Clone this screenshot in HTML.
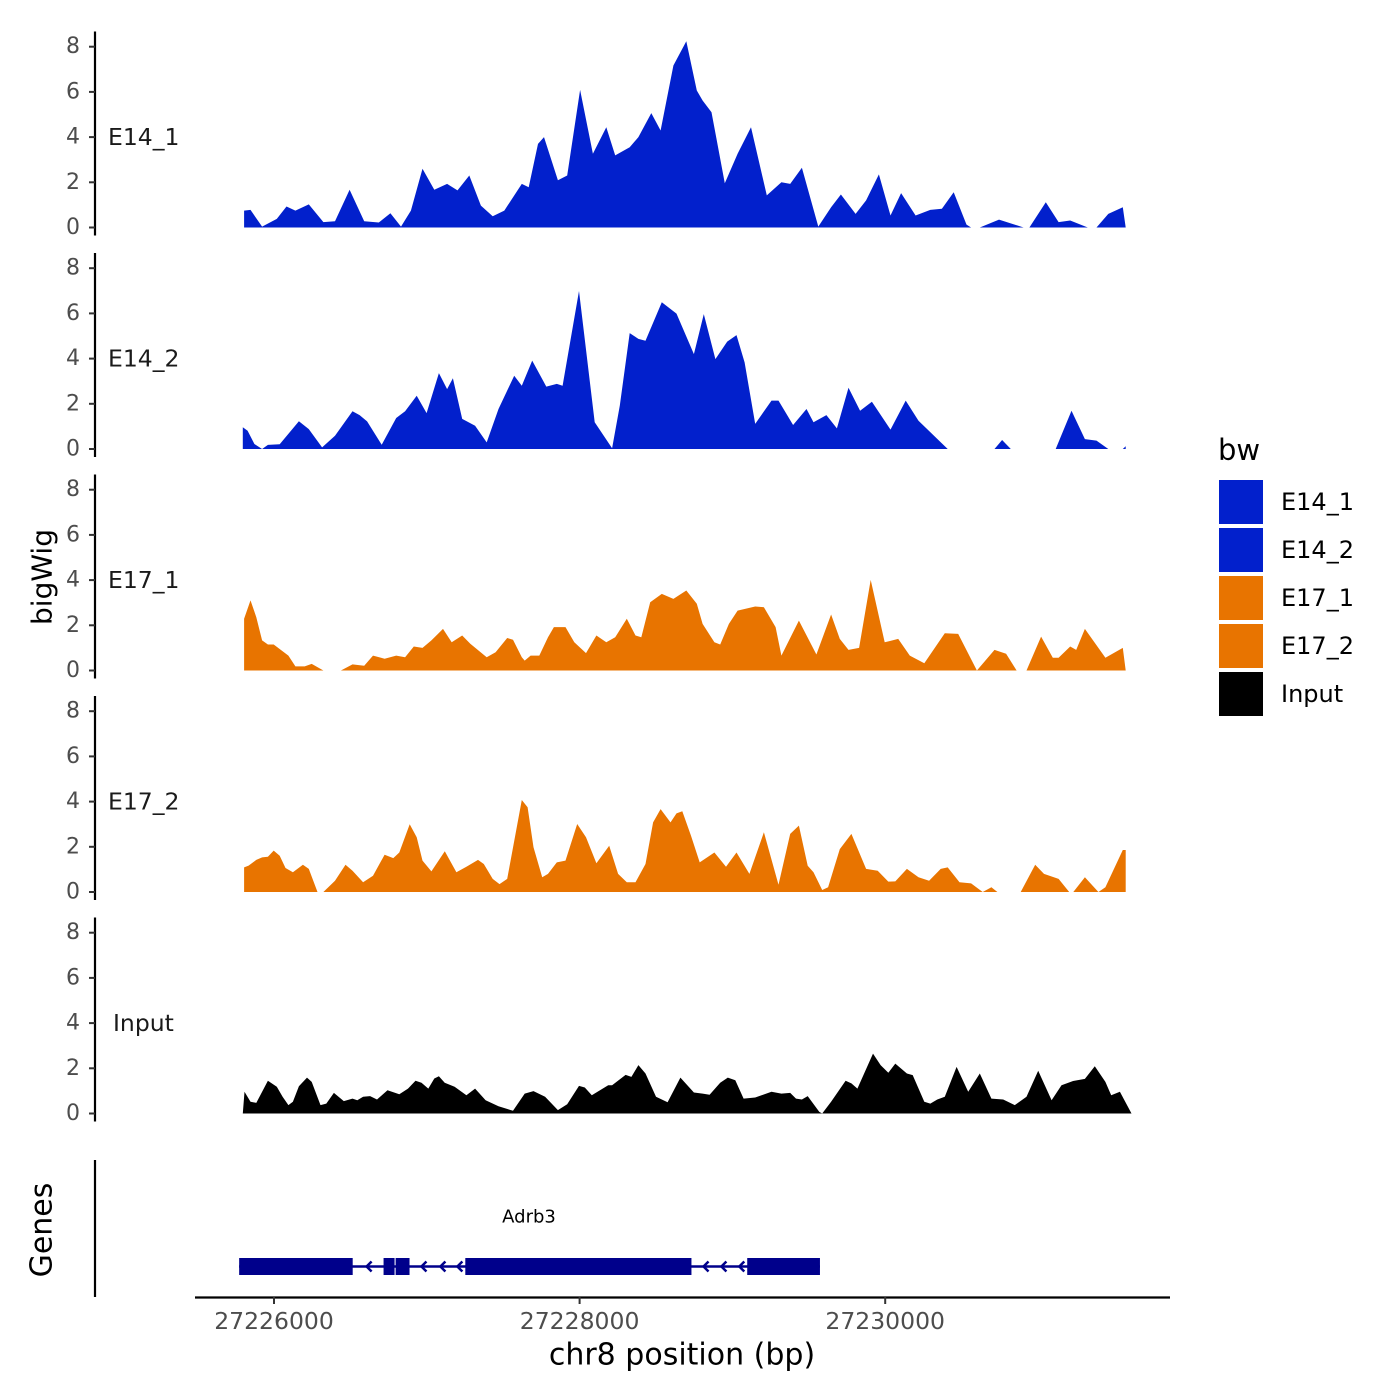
<!DOCTYPE html>
<html><head><meta charset="utf-8"><style>
html,body{margin:0;padding:0;background:#fff}
svg{display:block;font-family:"DejaVu Sans","Liberation Sans",sans-serif}
</style></head><body>
<svg id="chart" width="1400" height="1400" viewBox="0 0 1400 1400" xmlns="http://www.w3.org/2000/svg">
<rect width="1400" height="1400" fill="#fff"/>
<g id="tracks"></g>
<g id="genes"></g>
<g id="xaxis"></g>
<text x="42" y="577" transform="rotate(-90 42 577)" text-anchor="middle" dominant-baseline="central" font-size="28" fill="#000">bigWig</text>
<text x="42" y="1230" transform="rotate(-90 42 1230)" text-anchor="middle" dominant-baseline="central" font-size="30" fill="#000">Genes</text>
<text x="682" y="1355" text-anchor="middle" dominant-baseline="central" font-size="30" fill="#000">chr8 position (bp)</text>
<g id="legend"></g>
</svg>
<script>
const chromStart = 27225804;
const trackNames = ["E14_1","E14_2","E17_1","E17_2","Input"];
const trackColors = ["#0220CC","#0220CC","#E87400","#E87400","#000000"];
const yTicks = [0,2,4,6,8];
const xTicks = [27226000,27228000,27230000];
const xTickLabels = ["27226000","27228000","27230000"];

const e14_1_pos = [0,42,118,214,278,336,424,519,595,691,786,882,958,1027,1092,1168,1245,1329,1397,1474,1550,1627,1703,1818,1863,1924,1963,2054,2115,2199,2283,2371,2429,2524,2581,2665,2726,2810,2894,2963,3001,3059,3146,3230,3318,3421,3517,3574,3651,3758,3842,3906,4002,4071,4155,4231,4300,4395,4491,4567,4644,4728,4758,4815,4941,5102,5140,5247,5331,5407,5522,5579,5656,5751,5770];
const e14_1_val = [0.75,0.78,0.04,0.38,0.93,0.75,1.02,0.24,0.28,1.67,0.28,0.22,0.63,0.04,0.75,2.6,1.67,1.93,1.64,2.3,0.97,0.5,0.75,1.93,1.78,3.7,4.0,2.09,2.3,6.09,3.26,4.44,3.19,3.55,4.0,5.06,4.29,7.17,8.24,6.06,5.62,5.1,1.96,3.26,4.44,1.42,2.0,1.93,2.64,0.04,0.9,1.46,0.6,1.2,2.35,0.53,1.52,0.53,0.78,0.83,1.56,0.13,0,0,0.35,0,0,1.12,0.24,0.31,0,0,0.6,0.9,0];

const e14_2_pos = [-8,23,68,118,156,233,359,424,511,595,710,756,805,901,996,1054,1130,1195,1275,1329,1367,1428,1512,1588,1665,1768,1818,1886,1978,2047,2085,2192,2295,2409,2459,2524,2581,2627,2734,2830,2944,3009,3085,3162,3223,3276,3345,3452,3498,3593,3681,3727,3811,3880,3956,4032,4109,4231,4330,4414,4605,4911,4961,5018,5312,5415,5503,5579,5656,5751,5770];
const e14_2_val = [0.96,0.81,0.22,0,0.18,0.21,1.23,0.88,0.07,0.59,1.67,1.5,1.22,0.19,1.37,1.67,2.36,1.59,3.36,2.65,3.13,1.33,1.03,0.29,1.77,3.24,2.8,3.91,2.76,2.88,2.8,6.99,1.18,0.03,1.92,5.13,4.87,4.79,6.49,5.99,4.2,5.97,3.98,4.75,5.04,3.83,1.11,2.14,2.14,1.06,1.77,1.18,1.5,0.91,2.71,1.69,2.09,0.86,2.14,1.25,0,0,0.4,0,0,1.69,0.44,0.37,0,0,0.12];

const e17_1_pos = [0,42,80,118,156,194,290,336,397,443,519,634,710,786,844,920,996,1054,1111,1168,1226,1302,1359,1428,1481,1588,1646,1722,1760,1818,1837,1875,1932,1989,2028,2104,2161,2238,2306,2371,2429,2505,2562,2600,2658,2734,2810,2894,2963,3001,3078,3116,3173,3230,3345,3402,3479,3517,3631,3746,3842,3899,3956,4025,4101,4193,4281,4357,4452,4586,4674,4796,4911,4987,5056,5121,5216,5293,5331,5407,5446,5503,5637,5751,5770];
const e17_1_val = [2.29,3.1,2.36,1.33,1.15,1.15,0.66,0.18,0.18,0.29,0,0,0.27,0.21,0.66,0.52,0.66,0.59,1.06,1.0,1.33,1.84,1.25,1.55,1.18,0.59,0.81,1.44,1.36,0.59,0.44,0.66,0.66,1.47,1.92,1.92,1.25,0.77,1.55,1.25,1.47,2.29,1.55,1.47,3.02,3.39,3.17,3.54,2.95,2.06,1.25,1.15,2.06,2.65,2.83,2.8,1.92,0.66,2.21,0.71,2.48,1.4,0.91,1.0,4.01,1.25,1.4,0.66,0.32,1.65,1.62,0,0.91,0.74,0,0,1.5,0.56,0.56,1.06,0.91,1.84,0.56,1.0,0];

const e17_2_pos = [0,30,80,118,156,194,233,271,320,385,424,481,519,595,664,710,779,844,920,977,1016,1084,1130,1168,1226,1314,1390,1455,1531,1569,1627,1672,1722,1818,1856,1894,1951,1989,2047,2104,2180,2238,2306,2390,2448,2505,2562,2627,2677,2726,2791,2830,2868,2925,2982,3078,3154,3223,3307,3402,3498,3574,3631,3689,3727,3784,3822,3899,3975,4071,4147,4216,4262,4338,4414,4483,4559,4605,4682,4758,4834,4891,4930,5083,5178,5235,5331,5400,5427,5503,5591,5637,5751,5770];
const e17_2_val = [1.09,1.17,1.42,1.53,1.56,1.83,1.6,1.06,0.87,1.21,1.02,0,0,0.5,1.21,0.94,0.43,0.72,1.65,1.5,1.75,3.0,2.42,1.39,0.91,1.8,0.87,1.12,1.42,1.24,0.58,0.35,0.58,4.07,3.75,1.98,0.65,0.8,1.31,1.39,3.01,2.42,1.27,2.05,0.8,0.43,0.43,1.24,3.08,3.67,3.08,3.48,3.57,2.49,1.31,1.75,1.12,1.75,0.8,2.64,0.32,2.57,2.94,1.16,0.87,0.09,0.21,1.9,2.57,1.02,0.94,0.46,0.47,1.02,0.65,0.5,1.02,1.09,0.43,0.38,0,0.21,0,0,1.21,0.8,0.58,0,0,0.65,0,0.21,1.86,1.86];

const input_pos = [-8,3,42,80,156,214,252,290,320,359,412,443,500,538,588,653,710,741,779,825,870,939,1016,1073,1122,1161,1206,1245,1275,1313,1378,1455,1512,1581,1665,1760,1837,1894,1970,2054,2115,2192,2230,2276,2383,2409,2497,2535,2581,2627,2696,2772,2856,2944,3001,3047,3116,3166,3215,3269,3345,3452,3517,3574,3612,3651,3689,3765,3784,3842,3937,3975,4014,4116,4166,4216,4262,4338,4376,4452,4491,4537,4586,4663,4739,4815,4891,4968,5044,5121,5197,5285,5350,5426,5503,5568,5637,5675,5732,5808];
const input_val = [0,0.96,0.52,0.47,1.45,1.18,0.74,0.37,0.52,1.21,1.59,1.4,0.37,0.44,0.91,0.55,0.66,0.59,0.74,0.77,0.62,1.03,0.85,1.1,1.45,1.36,1.1,1.55,1.65,1.36,1.18,0.81,1.1,0.59,0.32,0.12,0.88,0.99,0.74,0.15,0.41,1.22,1.15,0.81,1.25,1.25,1.71,1.62,2.14,1.77,0.74,0.5,1.59,0.93,0.88,0.83,1.36,1.59,1.47,0.66,0.71,0.96,0.88,0.91,0.66,0.62,0.77,0.07,0,0.52,1.45,1.33,1.1,2.65,2.14,1.8,2.21,1.77,1.7,0.52,0.44,0.62,0.74,2.06,0.96,1.77,0.66,0.62,0.37,0.74,1.89,0.59,1.25,1.44,1.53,2.09,1.4,0.81,0.96,0];

const exonStarts = [27225772,27226717,27226796,27227252,27229097];
const exonEnds   = [27226515,27226789,27226887,27228732,27229573];
const geneStart = 27225772, geneEnd = 27229573;
const chevronPos = [27226606,27226965,27227089,27227200,27228811,27228928,27229045];
const geneName = "Adrb3";
const geneLabelPos = 27227669;

const NS = "http://www.w3.org/2000/svg";
function xScale(bp){ return 274 + (bp - 27226000) * 0.1528; }
const baselines = [227.5,449,670.5,892,1113.5];
const unit = 22.6;
function yScale(v, t){ return baselines[t] - v * unit; }
function mk(tag, attrs, parent){ const e=document.createElementNS(NS,tag); for(const k in attrs) e.setAttribute(k,attrs[k]); parent.appendChild(e); return e; }

const allPos = [e14_1_pos,e14_2_pos,e17_1_pos,e17_2_pos,input_pos];
const allVal = [e14_1_val,e14_2_val,e17_1_val,e17_2_val,input_val];
const tracksG = document.getElementById('tracks');
for(let t=0;t<5;t++){
  const g = mk('g',{},tracksG);
  
  
  const pos = allPos[t], val = allVal[t];
  let d = 'M' + xScale(chromStart+pos[0]).toFixed(1) + ',' + baselines[t];
  for(let i=0;i<pos.length;i++) d += 'L' + xScale(chromStart+pos[i]).toFixed(1) + ',' + yScale(val[i],t).toFixed(1);
  d += 'L' + xScale(chromStart+pos[pos.length-1]).toFixed(1) + ',' + baselines[t] + 'Z';
  const p = mk('path',{d:d, fill:trackColors[t]},g);
  
  
  const ax = mk('line',{x1:95,x2:95,y1:baselines[t]-196,y2:baselines[t]+8,stroke:'#000','stroke-width':2.2},g);
  
  
  for(const v of yTicks){
    const y = yScale(v,t);
    const tk = mk('line',{x1:89,x2:95,y1:y,y2:y,stroke:'#333','stroke-width':2},g);
    
    
    const tl = mk('text',{x:80,y:y,'text-anchor':'end','dominant-baseline':'central','font-size':22,fill:'#4d4d4d'},g);
    
    
    tl.textContent = v;
  }
  const lb = mk('text',{x: t===4?113:108, y:yScale(4,t),'dominant-baseline':'central','font-size':23.5,fill:'#1a1a1a'},g);
  
  
  lb.textContent = trackNames[t];
}

// gene track
const gG = document.getElementById('genes');
const gax = mk('line',{x1:95,x2:95,y1:1160,y2:1297,stroke:'#000','stroke-width':2.2},gG);


const gy = 1266.5;
const intr = mk('line',{x1:xScale(geneStart),x2:xScale(geneEnd),y1:gy,y2:gy,stroke:'#00008B','stroke-width':2.5},gG);


for(let i=0;i<exonStarts.length;i++){
  const r = mk('rect',{x:xScale(exonStarts[i]),y:1258,width:xScale(exonEnds[i])-xScale(exonStarts[i]),height:17,fill:'#00008B'},gG);
  
  
}
for(const c of chevronPos){
  const x = xScale(c);
  const ch = mk('polyline',{points:(x+5)+','+(gy-5)+' '+x+','+gy+' '+(x+5)+','+(gy+5),fill:'none',stroke:'#00008B','stroke-width':2.5},gG);
  
  
}
const gl = mk('text',{x:xScale(geneLabelPos),y:1217,'text-anchor':'middle','dominant-baseline':'central','font-size':18,fill:'#000'},gG);


gl.textContent = geneName;

// x axis
const xG = document.getElementById('xaxis');
const xl = mk('line',{x1:195,x2:1170,y1:1297.5,y2:1297.5,stroke:'#000','stroke-width':2.2},xG);


for(let i=0;i<xTicks.length;i++){
  const x = xScale(xTicks[i]);
  const tk = mk('line',{x1:x,x2:x,y1:1297,y2:1304,stroke:'#333','stroke-width':2},xG);
  
  
  const tl = mk('text',{x:x,y:1321,'text-anchor':'middle','dominant-baseline':'central','font-size':23.5,fill:'#4d4d4d'},xG);
  
  
  tl.textContent = xTickLabels[i];
}

// legend
const lG = document.getElementById('legend');
const lt = mk('text',{x:1218,y:450,'dominant-baseline':'central','font-size':29,fill:'#000'},lG);


lt.textContent = 'bw';
for(let i=0;i<5;i++){
  const y = 480 + i*48;
  const e = mk('g',{},lG);
  
  
  const k = mk('rect',{x:1219,y:y,width:44,height:44,fill:trackColors[i]},e);
  
  
  const t = mk('text',{x:1281,y:y+22,'dominant-baseline':'central','font-size':24,fill:'#000'},e);
  
  
  t.textContent = trackNames[i];
}
</script>
</body></html>
